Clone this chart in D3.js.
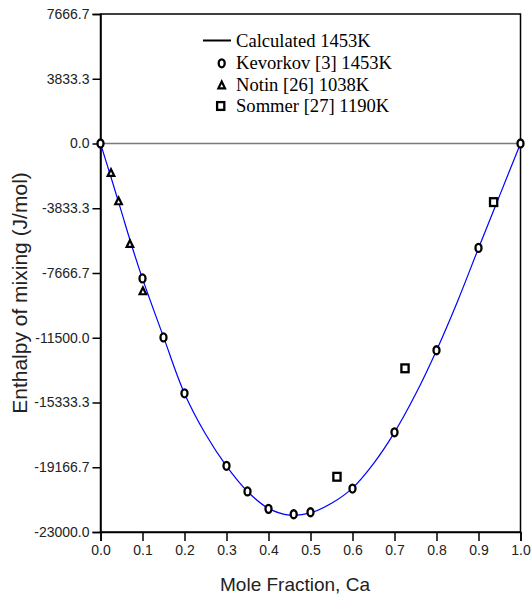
<!DOCTYPE html>
<html>
<head>
<meta charset="utf-8">
<script src="https://cdn.jsdelivr.net/npm/d3@7"></script>
<style>
  html, body { margin: 0; padding: 0; background: #fff; }
  svg { display: block; }
</style>
</head>
<body>
<script>
// ---- data ----
const yTicks = [7666.7, 3833.3, 0.0, -3833.3, -7666.7, -11500.0, -15333.3, -19166.7, -23000.0];
const xTicks = [0.0, 0.1, 0.2, 0.3, 0.4, 0.5, 0.6, 0.7, 0.8, 0.9, 1.0];

const calcX = [0, 0.025, 0.05, 0.075, 0.1, 0.15, 0.2, 0.25, 0.3, 0.35, 0.4, 0.45, 0.5, 0.55, 0.6, 0.65, 0.7, 0.75, 0.8, 0.85, 0.9, 0.95, 1.0];
const calcY = [0, -2000, -4050, -6100, -8000, -11450, -14800, -17200, -19100, -20600, -21600, -22000, -21870, -21300, -20400, -18950, -17100, -14850, -12250, -9350, -6200, -3100, 0];

const kevX = [0, 0.1, 0.15, 0.2, 0.3, 0.35, 0.4, 0.46, 0.5, 0.6, 0.7, 0.8, 0.9, 1.0];
const kevY = [0, -7990, -11480, -14790, -19080, -20600, -21630, -21950, -21830, -20430, -17100, -12240, -6180, 0];

const notX = [0.025, 0.043, 0.07, 0.101];
const notY = [-1750, -3430, -5960, -8760];

const somX = [0.563, 0.725, 0.936];
const somY = [-19730, -13310, -3470];

const legendLabels = ["Calculated 1453K", "Kevorkov [3] 1453K", "Notin [26] 1038K", "Sommer [27] 1190K"];

// ---- chart ----
const W = 532, H = 598;
const svg = d3.select("body").append("svg").attr("width", W).attr("height", H);

const x = d3.scaleLinear().domain([0, 1]).range([100.5, 520.5]);
const y = d3.scaleLinear().domain([-23000, 7666.7]).range([532, 14]);

const f1 = d3.format(".1f");
const fmt = v => f1(v).replace("\u2212", "-");

// zero line
svg.append("line")
  .attr("x1", x(0)).attr("x2", x(1))
  .attr("y1", y(0)).attr("y2", y(0))
  .attr("stroke", "#7a7a7a").attr("stroke-width", 1.5);

// frame
svg.append("rect")
  .attr("x", x(0)).attr("y", y(7666.7))
  .attr("width", x(1) - x(0)).attr("height", y(-23000) - y(7666.7))
  .attr("fill", "none").attr("stroke", "#000").attr("stroke-width", 1.5);

// y axis
const yAxis = d3.axisLeft(y).tickValues(yTicks).tickFormat(fmt).tickSize(8).tickPadding(3);
const gy = svg.append("g").attr("transform", `translate(${x(0)},0)`).call(yAxis);
gy.select(".domain").attr("stroke", "#000").attr("stroke-width", 1.5);
gy.selectAll(".tick line").attr("stroke", "#000").attr("stroke-width", 1.5);
gy.selectAll(".tick text").attr("font-family", "'Liberation Sans', Arial, sans-serif")
  .attr("font-size", 14).attr("fill", "#222");

// x axis
const xAxis = d3.axisBottom(x).tickValues(xTicks).tickFormat(fmt).tickSize(9).tickPadding(4);
const gx = svg.append("g").attr("transform", `translate(0,${y(-23000)})`).call(xAxis);
gx.select(".domain").attr("stroke", "#000").attr("stroke-width", 1.5);
gx.selectAll(".tick line").attr("stroke", "#000").attr("stroke-width", 1.5);
gx.selectAll(".tick text").attr("font-family", "'Liberation Sans', Arial, sans-serif")
  .attr("font-size", 14).attr("fill", "#222");

// axis titles
svg.append("text")
  .attr("x", 295).attr("y", 591)
  .attr("text-anchor", "middle")
  .attr("font-family", "'Liberation Sans', Arial, sans-serif")
  .attr("font-size", 19).attr("fill", "#222")
  .text("Mole Fraction, Ca");

svg.append("text")
  .attr("transform", "translate(26.5,293) rotate(-90)")
  .attr("text-anchor", "middle")
  .attr("font-family", "'Liberation Sans', Arial, sans-serif")
  .attr("font-size", 21).attr("fill", "#222")
  .text("Enthalpy of mixing (J/mol)");

// calculated curve
const calc = calcX.map((v, i) => [v, calcY[i]]);
svg.append("path")
  .datum(calc)
  .attr("fill", "none").attr("stroke", "#0000ff").attr("stroke-width", 1.2)
  .attr("d", d3.line().x(d => x(d[0])).y(d => y(d[1])).curve(d3.curveCatmullRom.alpha(0.5)));

// markers
const triPath = "M0,-3.9L3.3,2.8L-3.3,2.8Z";

function circleMarker(g, cx, cy) {
  g.append("ellipse").attr("cx", cx).attr("cy", cy).attr("rx", 3).attr("ry", 4)
    .attr("fill", "#fff").attr("stroke", "#000").attr("stroke-width", 2.3);
}
function triMarker(g, cx, cy) {
  g.append("path").attr("d", triPath).attr("transform", `translate(${cx},${cy})`)
    .attr("fill", "#fff").attr("stroke", "#000").attr("stroke-width", 2.2).attr("stroke-linejoin", "miter");
}
function sqMarker(g, cx, cy) {
  g.append("rect").attr("x", cx - 3.6).attr("y", cy - 3.9).attr("width", 7.2).attr("height", 7.8)
    .attr("fill", "#fff").attr("stroke", "#000").attr("stroke-width", 2.3);
}

const gm = svg.append("g");
kevX.forEach((v, i) => circleMarker(gm, x(v), y(kevY[i])));
notX.forEach((v, i) => triMarker(gm, x(v), y(notY[i])));
somX.forEach((v, i) => sqMarker(gm, x(v), y(somY[i])));

// legend
const lg = svg.append("g");
const rowY = [47.3, 69, 90.7, 112.3];
lg.append("line").attr("x1", 203).attr("x2", 231).attr("y1", 40.5).attr("y2", 40.5)
  .attr("stroke", "#000").attr("stroke-width", 2);
circleMarker(lg, 221.7, 63.3);
triMarker(lg, 221.7, 85.5);
sqMarker(lg, 220.7, 106);
legendLabels.forEach((t, i) => {
  lg.append("text").attr("x", 236).attr("y", rowY[i])
    .attr("font-family", "'Liberation Serif', 'Times New Roman', serif")
    .attr("font-size", 18.6).attr("fill", "#000")
    .text(t);
});
</script>
</body>
</html>
